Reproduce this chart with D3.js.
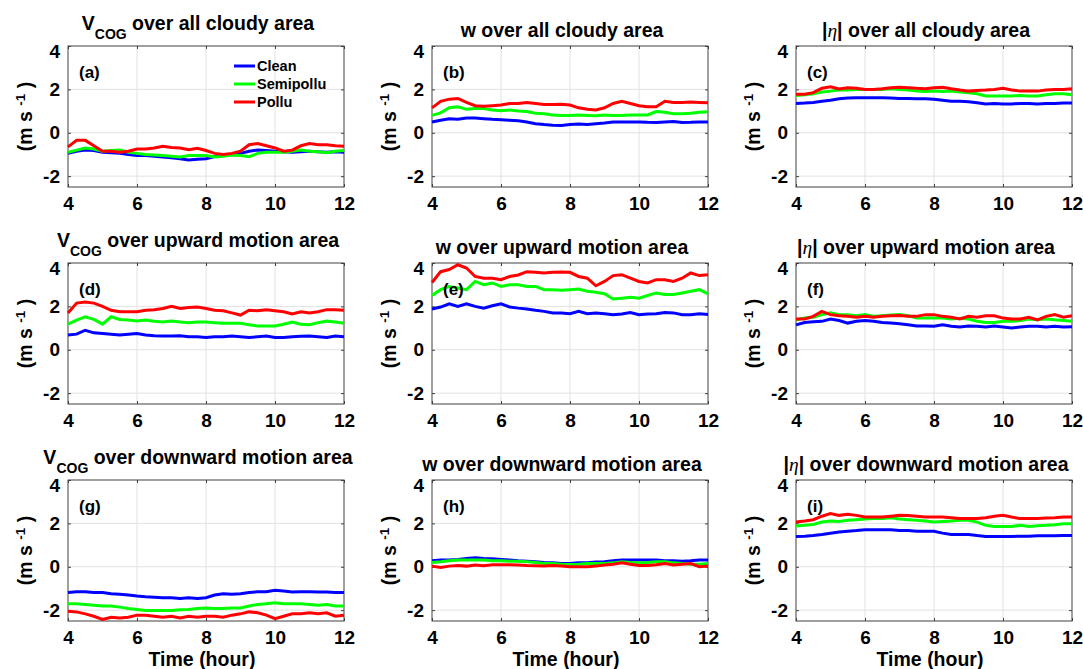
<!DOCTYPE html>
<html lang="en">

<head>
    <meta charset="utf-8">
    <title>D3: time series panels</title>
    <script src="https://d3js.org/d3.v7.min.js"></script>
    <style type="text/css">
        body { margin: 0; background: #fff; }
        svg text { font-family: "Liberation Sans", Arial, sans-serif; font-weight: bold; fill: #000; }
    </style>
</head>

<body>
    <script type="text/javascript">

        // time axis (hours)
        var hours = [4, 4.25, 4.5, 4.75, 5, 5.25, 5.5, 5.75, 6, 6.25, 6.5, 6.75, 7, 7.25, 7.5, 7.75,
            8, 8.25, 8.5, 8.75, 9, 9.25, 9.5, 9.75, 10, 10.25, 10.5, 10.75, 11, 11.25, 11.5, 11.75, 12];

        var xTicks = [4, 6, 8, 10, 12];
        var yTicks = [-2, 0, 2, 4];
        var seriesNames = ["Clean", "Semipollu", "Pollu"];
        var seriesColors = ["#0000ff", "#00ff00", "#ff0000"];
        var rowAreas = ["all cloudy area", "upward motion area", "downward motion area"];
        var colVars = ["V", "w", "eta"];
        var panelLetters = ["a", "b", "c", "d", "e", "f", "g", "h", "i"];

        // (a) V_COG, all cloudy
        var aClean = [-0.95, -0.85, -0.8, -0.82, -0.9, -0.92, -0.95, -1.0, -1.05, -1.05, -1.08, -1.12, -1.15, -1.2, -1.25, -1.22, -1.2, -1.1, -1.05, -1.0, -0.95, -0.85, -0.8, -0.82, -0.85, -0.88, -0.9, -0.88, -0.85, -0.88, -0.9, -0.88, -0.9];
        var aSemi = [-0.9, -0.8, -0.7, -0.75, -0.85, -0.82, -0.8, -0.9, -0.95, -1.0, -1.02, -1.05, -1.08, -1.12, -1.05, -1.05, -1.05, -1.12, -1.08, -1.02, -1.05, -1.1, -0.95, -0.9, -0.9, -0.9, -0.85, -0.8, -0.85, -0.88, -0.92, -0.85, -0.82];
        var aPollu = [-0.65, -0.35, -0.35, -0.6, -0.85, -0.85, -0.9, -0.85, -0.75, -0.75, -0.7, -0.62, -0.68, -0.7, -0.78, -0.72, -0.82, -0.95, -1.0, -0.95, -0.85, -0.55, -0.5, -0.6, -0.7, -0.85, -0.8, -0.6, -0.5, -0.55, -0.55, -0.6, -0.62];
        // (b) w, all cloudy
        var bClean = [0.5, 0.58, 0.65, 0.62, 0.68, 0.68, 0.65, 0.62, 0.6, 0.58, 0.55, 0.5, 0.42, 0.38, 0.35, 0.33, 0.38, 0.4, 0.38, 0.42, 0.45, 0.5, 0.5, 0.5, 0.5, 0.48, 0.47, 0.5, 0.52, 0.47, 0.48, 0.5, 0.5];
        var bSemi = [0.8, 0.92, 1.15, 1.2, 1.08, 1.12, 1.12, 1.05, 1.02, 1.05, 1.0, 0.98, 0.9, 0.88, 0.82, 0.8, 0.8, 0.82, 0.8, 0.78, 0.82, 0.8, 0.8, 0.82, 0.82, 0.82, 0.98, 0.95, 0.88, 0.88, 0.9, 0.95, 0.97];
        var bPollu = [1.15, 1.45, 1.55, 1.58, 1.4, 1.25, 1.22, 1.25, 1.28, 1.35, 1.35, 1.4, 1.35, 1.3, 1.3, 1.32, 1.28, 1.15, 1.08, 1.05, 1.15, 1.35, 1.45, 1.35, 1.25, 1.2, 1.2, 1.45, 1.4, 1.4, 1.42, 1.4, 1.38];
        // (c) |eta|, all cloudy
        var cClean = [1.35, 1.37, 1.4, 1.45, 1.5, 1.57, 1.6, 1.62, 1.62, 1.62, 1.62, 1.6, 1.58, 1.58, 1.57, 1.57, 1.55, 1.5, 1.45, 1.45, 1.43, 1.38, 1.33, 1.35, 1.33, 1.33, 1.35, 1.35, 1.33, 1.35, 1.35, 1.37, 1.37];
        var cSemi = [1.72, 1.75, 1.8, 1.88, 1.92, 1.97, 1.97, 2.0, 2.0, 2.0, 2.0, 2.03, 2.0, 1.97, 1.92, 1.9, 1.92, 1.9, 1.92, 1.88, 1.85, 1.8, 1.7, 1.7, 1.7, 1.7, 1.72, 1.7, 1.7, 1.75, 1.8, 1.8, 1.75];
        var cPollu = [1.78, 1.78, 1.85, 2.05, 2.12, 2.02, 2.08, 2.05, 2.0, 2.0, 2.03, 2.07, 2.1, 2.08, 2.05, 2.03, 2.08, 2.1, 2.03, 1.97, 1.92, 1.95, 1.97, 2.0, 2.05, 1.97, 1.92, 1.92, 1.92, 1.97, 2.0, 2.0, 2.03];
        // (d) V_COG, upward
        var dClean = [0.68, 0.72, 0.9, 0.78, 0.75, 0.72, 0.68, 0.72, 0.75, 0.68, 0.65, 0.63, 0.63, 0.65, 0.6, 0.6, 0.57, 0.6, 0.6, 0.63, 0.6, 0.57, 0.6, 0.63, 0.57, 0.57, 0.6, 0.62, 0.63, 0.6, 0.57, 0.63, 0.6];
        var dSemi = [1.18, 1.37, 1.52, 1.4, 1.18, 1.52, 1.4, 1.37, 1.33, 1.37, 1.32, 1.28, 1.33, 1.28, 1.25, 1.28, 1.28, 1.25, 1.22, 1.22, 1.22, 1.15, 1.1, 1.1, 1.1, 1.18, 1.28, 1.18, 1.15, 1.25, 1.32, 1.28, 1.22];
        var dPollu = [1.7, 2.15, 2.2, 2.15, 2.0, 1.82, 1.75, 1.75, 1.75, 1.82, 1.85, 1.9, 2.0, 1.9, 1.95, 1.97, 1.9, 1.82, 1.8, 1.7, 1.6, 1.82, 1.8, 1.85, 1.8, 1.75, 1.65, 1.75, 1.7, 1.75, 1.85, 1.85, 1.82];
        // (e) w, upward
        var eClean = [1.88, 1.97, 2.12, 2.0, 2.12, 2.0, 1.92, 2.03, 2.12, 1.97, 1.92, 1.88, 1.82, 1.77, 1.7, 1.7, 1.66, 1.77, 1.66, 1.7, 1.66, 1.62, 1.65, 1.72, 1.62, 1.65, 1.66, 1.72, 1.7, 1.62, 1.62, 1.66, 1.63];
        var eSemi = [2.5, 2.77, 2.92, 2.85, 2.77, 3.15, 3.0, 3.08, 2.92, 3.0, 3.0, 2.92, 2.92, 2.77, 2.77, 2.74, 2.77, 2.8, 2.7, 2.65, 2.58, 2.34, 2.38, 2.42, 2.38, 2.5, 2.62, 2.55, 2.55, 2.62, 2.7, 2.77, 2.58];
        var ePollu = [3.1, 3.6, 3.7, 3.92, 3.77, 3.38, 3.3, 3.3, 3.23, 3.38, 3.45, 3.6, 3.57, 3.54, 3.57, 3.58, 3.57, 3.38, 3.3, 2.95, 3.15, 3.42, 3.46, 3.3, 3.15, 3.08, 3.23, 3.23, 3.15, 3.3, 3.54, 3.42, 3.46];
        // (f) |eta|, upward
        var fClean = [1.15, 1.26, 1.29, 1.31, 1.42, 1.35, 1.23, 1.31, 1.35, 1.31, 1.26, 1.23, 1.2, 1.15, 1.1, 1.1, 1.08, 1.15, 1.08, 1.05, 1.1, 1.08, 1.05, 1.1, 1.05, 1.0, 1.05, 1.08, 1.08, 1.05, 1.08, 1.05, 1.06];
        var fSemi = [1.38, 1.46, 1.5, 1.62, 1.7, 1.62, 1.62, 1.57, 1.62, 1.54, 1.57, 1.6, 1.62, 1.57, 1.46, 1.46, 1.46, 1.46, 1.42, 1.45, 1.42, 1.31, 1.26, 1.26, 1.31, 1.31, 1.35, 1.42, 1.38, 1.42, 1.38, 1.35, 1.31];
        var fPollu = [1.42, 1.42, 1.54, 1.77, 1.62, 1.57, 1.54, 1.5, 1.54, 1.5, 1.54, 1.57, 1.58, 1.54, 1.54, 1.62, 1.62, 1.54, 1.5, 1.42, 1.54, 1.5, 1.57, 1.57, 1.46, 1.42, 1.42, 1.5, 1.38, 1.54, 1.62, 1.5, 1.57];
        // (g) V_COG, downward
        var gClean = [-1.19, -1.15, -1.15, -1.19, -1.19, -1.24, -1.27, -1.3, -1.35, -1.38, -1.4, -1.43, -1.43, -1.46, -1.43, -1.46, -1.43, -1.3, -1.24, -1.27, -1.24, -1.19, -1.15, -1.15, -1.08, -1.12, -1.16, -1.15, -1.15, -1.16, -1.16, -1.19, -1.19];
        var gSemi = [-1.7, -1.7, -1.74, -1.77, -1.81, -1.81, -1.86, -1.92, -1.97, -2.02, -2.02, -2.02, -2.02, -1.98, -1.97, -1.92, -1.9, -1.92, -1.92, -1.9, -1.9, -1.81, -1.74, -1.7, -1.66, -1.7, -1.7, -1.7, -1.74, -1.77, -1.74, -1.81, -1.81];
        var gPollu = [-2.05, -2.08, -2.17, -2.28, -2.43, -2.33, -2.36, -2.33, -2.23, -2.23, -2.28, -2.33, -2.28, -2.36, -2.28, -2.33, -2.28, -2.28, -2.33, -2.23, -2.17, -2.08, -2.12, -2.23, -2.39, -2.28, -2.17, -2.17, -2.12, -2.17, -2.12, -2.28, -2.23];
        // (h) w, downward
        var hClean = [0.28, 0.31, 0.31, 0.34, 0.38, 0.42, 0.38, 0.37, 0.34, 0.31, 0.28, 0.26, 0.23, 0.2, 0.18, 0.15, 0.15, 0.18, 0.18, 0.22, 0.23, 0.28, 0.31, 0.31, 0.31, 0.31, 0.31, 0.28, 0.28, 0.26, 0.28, 0.31, 0.31];
        var hSemi = [0.2, 0.23, 0.28, 0.31, 0.31, 0.31, 0.31, 0.28, 0.28, 0.26, 0.25, 0.23, 0.2, 0.15, 0.15, 0.12, 0.11, 0.12, 0.15, 0.15, 0.15, 0.18, 0.23, 0.2, 0.18, 0.2, 0.23, 0.23, 0.18, 0.15, 0.12, 0.12, 0.15];
        var hPollu = [0.03, -0.03, 0.03, 0.06, 0.03, 0.08, 0.05, 0.09, 0.09, 0.09, 0.08, 0.06, 0.05, 0.03, 0.06, 0.03, 0.0, 0.0, 0.0, 0.03, 0.08, 0.12, 0.18, 0.12, 0.06, 0.06, 0.09, 0.15, 0.08, 0.12, 0.15, 0.0, 0.03];
        // (i) |eta|, downward
        var iClean = [1.4, 1.41, 1.44, 1.49, 1.55, 1.6, 1.64, 1.67, 1.71, 1.71, 1.71, 1.71, 1.67, 1.67, 1.64, 1.64, 1.64, 1.55, 1.49, 1.49, 1.49, 1.44, 1.4, 1.4, 1.4, 1.4, 1.41, 1.41, 1.43, 1.43, 1.43, 1.44, 1.44];
        var iSemi = [1.88, 1.91, 1.95, 2.06, 2.11, 2.09, 2.14, 2.17, 2.2, 2.22, 2.23, 2.26, 2.2, 2.17, 2.14, 2.11, 2.06, 2.09, 2.11, 2.14, 2.14, 2.06, 1.91, 1.86, 1.86, 1.86, 1.91, 1.86, 1.89, 1.91, 1.94, 1.98, 1.98];
        var iPollu = [2.06, 2.11, 2.17, 2.33, 2.45, 2.37, 2.42, 2.37, 2.29, 2.29, 2.29, 2.33, 2.37, 2.36, 2.33, 2.29, 2.29, 2.29, 2.26, 2.22, 2.22, 2.22, 2.26, 2.33, 2.37, 2.29, 2.22, 2.22, 2.22, 2.25, 2.26, 2.29, 2.29];

        var panelSeries = [
            [aClean, aSemi, aPollu], [bClean, bSemi, bPollu], [cClean, cSemi, cPollu],
            [dClean, dSemi, dPollu], [eClean, eSemi, ePollu], [fClean, fSemi, fPollu],
            [gClean, gSemi, gPollu], [hClean, hSemi, hPollu], [iClean, iSemi, iPollu]
        ];

        //Width and height
        var w = 1083;
        var h = 669;
        var colLeft = [68, 432, 796];
        var rowTop = [46, 263, 480];
        var pw = 276;
        var ph = 141;

        var x = d3.scaleLinear().domain([4, 12]).range([0, pw]);
        var y = d3.scaleLinear().domain([-2.5, 4]).range([ph, 0]);

        // plain hyphen minus, no decimals
        var tickText = function (d) { return String(d); };

        var line = d3.line()
            .x(function (d, i) { return x(hours[i]); })
            .y(function (d) { return y(d); });

        //Create SVG element
        var svg = d3.select("body")
            .append("svg")
            .attr("width", w)
            .attr("height", h);

        panelSeries.forEach(function (series, p) {
            var row = Math.floor(p / 3), col = p % 3;
            var g = svg.append("g")
                .attr("transform", "translate(" + colLeft[col] + "," + rowTop[row] + ")");

            // grid
            g.selectAll(".gx").data(xTicks.slice(1, -1)).enter().append("line")
                .attr("x1", function (d) { return x(d); }).attr("x2", function (d) { return x(d); })
                .attr("y1", 0).attr("y2", ph)
                .attr("stroke", "#e2e2e2").attr("stroke-width", 1);
            g.selectAll(".gy").data(yTicks.slice(0, -1)).enter().append("line")
                .attr("x1", 0).attr("x2", pw)
                .attr("y1", function (d) { return y(d); }).attr("y2", function (d) { return y(d); })
                .attr("stroke", "#e2e2e2").attr("stroke-width", 1);

            // axes, ticks pointing inward
            var xa = g.append("g").attr("transform", "translate(0," + ph + ")")
                .call(d3.axisBottom(x).tickValues(xTicks).tickFormat(tickText)
                    .tickSizeInner(-3).tickSizeOuter(0).tickPadding(10));
            var ya = g.append("g")
                .call(d3.axisLeft(y).tickValues(yTicks).tickFormat(tickText)
                    .tickSizeInner(-3).tickSizeOuter(0).tickPadding(8));
            g.append("g").call(d3.axisTop(x).tickValues(xTicks).tickSizeInner(-3).tickSizeOuter(0).tickFormat(""));
            g.append("g").attr("transform", "translate(" + pw + ",0)")
                .call(d3.axisRight(y).tickValues(yTicks).tickSizeInner(-3).tickSizeOuter(0).tickFormat(""));
            g.selectAll(".domain").remove();
            g.selectAll(".tick line").attr("stroke", "#404040");
            xa.selectAll("text").style("font-size", "19px").attr("fill", "#000");
            ya.selectAll("text").style("font-size", "19px").attr("fill", "#000");
            ya.selectAll(".tick").filter(function (d) { return d === 4; })
                .select("text").attr("dy", "0.62em");

            // box
            g.append("rect")
                .attr("width", pw).attr("height", ph)
                .attr("fill", "none").attr("stroke", "#404040").attr("stroke-width", 1);

            // data lines
            series.forEach(function (vals, s) {
                g.append("path")
                    .datum(vals)
                    .attr("d", line)
                    .attr("fill", "none")
                    .attr("stroke", seriesColors[s])
                    .attr("stroke-width", 3);
            });

            // panel letter
            g.append("text")
                .attr("x", 11).attr("y", 32)
                .style("font-size", "17px")
                .text("(" + panelLetters[p] + ")");

            // title
            var t = g.append("text")
                .attr("x", pw / 2 - 8)
                .attr("y", -9)
                .attr("text-anchor", "middle")
                .style("font-size", "19.5px");
            if (colVars[col] === "V") {
                t.attr("y", -16);
                t.append("tspan").text("V");
                t.append("tspan").attr("dy", 9).style("font-size", "14px").text("COG");
                t.append("tspan").attr("dy", -9).text(" over " + rowAreas[row]);
            } else if (colVars[col] === "w") {
                t.text("w over " + rowAreas[row]);
            } else {
                t.append("tspan").text("|");
                t.append("tspan")
                    .style("font-family", "'Liberation Serif', 'DejaVu Serif', serif")
                    .style("font-style", "italic").style("font-weight", "normal")
                    .text("\u03b7");
                t.append("tspan").text("| over " + rowAreas[row]);
            }

            // y label
            var yl = g.append("text")
                .attr("transform", "translate(-36," + (ph / 2) + ") rotate(-90)")
                .attr("text-anchor", "middle")
                .style("font-size", "19.5px");
            yl.append("tspan").text("(m s\u00a0");
            yl.append("tspan").attr("dy", -7).style("font-size", "13.5px").text("-1");
            yl.append("tspan").attr("dy", 7).text("\u00a0)");

            // x label on bottom row
            if (row === 2) {
                g.append("text")
                    .attr("x", pw / 2 - 4)
                    .attr("y", ph + 45)
                    .attr("text-anchor", "middle")
                    .style("font-size", "19.5px")
                    .text("Time (hour)");
            }

            // legend in the first panel
            if (p === 0) {
                var lg = g.append("g").attr("transform", "translate(166,20)");
                seriesNames.forEach(function (name, s) {
                    lg.append("line")
                        .attr("x1", 0).attr("x2", 21)
                        .attr("y1", s * 18).attr("y2", s * 18)
                        .attr("stroke", seriesColors[s]).attr("stroke-width", 3);
                    lg.append("text")
                        .attr("x", 23).attr("y", s * 18 + 5)
                        .style("font-size", "14.5px")
                        .text(name);
                });
            }
        });

    </script>
</body>

</html>
